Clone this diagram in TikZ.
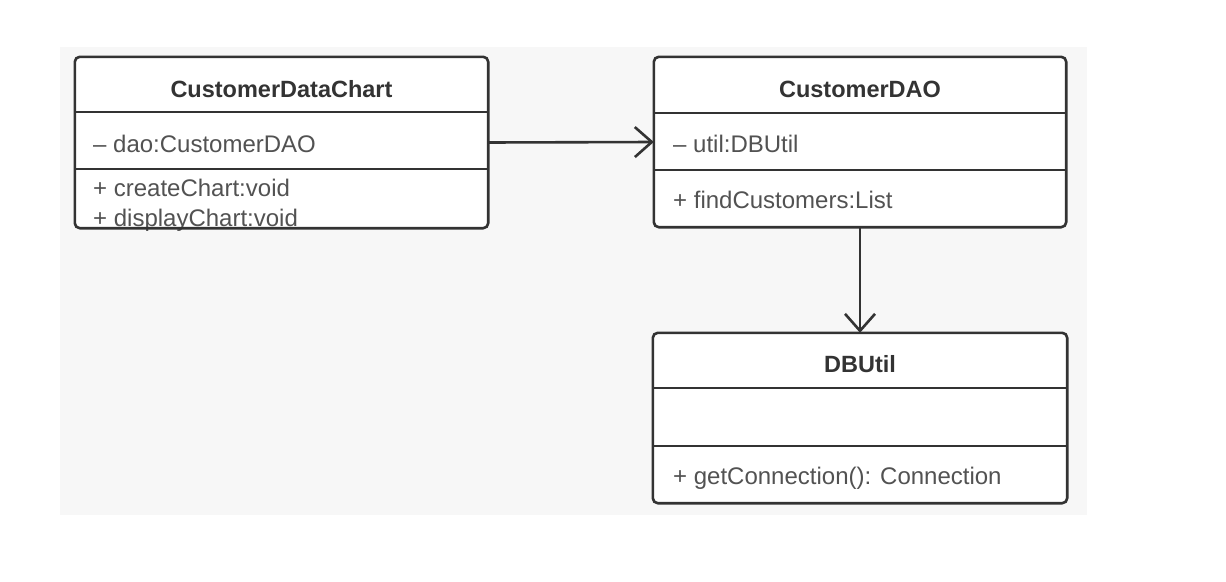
\documentclass[tikz,border=0pt]{standalone}
\usepackage{fontspec}
\setmainfont{Liberation Sans}
\usetikzlibrary{arrows.meta}
\definecolor{ink}{HTML}{333333}
\definecolor{bgc}{HTML}{F7F7F7}
\begin{document}
\begin{tikzpicture}[x=1pt,y=-1pt,
  classbox/.style 2 args={rectangle, draw=none, fill=white, inner sep=0pt, minimum width=#1, minimum height=#2},
  outline/.style={draw=ink, line width=2.6pt, rounded corners=5pt},
  divider/.style={draw=ink, line width=2.6pt},
  title/.style={anchor=base, inner sep=0pt, text=ink, font=\bfseries\fontsize{23.5}{28}\selectfont},
  member/.style={anchor=base west, inner sep=0pt, text=ink!85, font=\fontsize{24}{28}\selectfont},
  assoc/.style={draw=ink, line width=2.6pt, -{Straight Barb[length=17pt, width=30pt, line width=2.6pt]}}
]
\useasboundingbox (0,0) rectangle (1226,581);
\fill[white] (0,0) rectangle (1226,581);
\fill[bgc] (60,47) rectangle (1087,515);

% CustomerDataChart
\node[classbox={413pt}{171pt}] (cdc) at (281.5,142.5) {};
\node[title] (cdcT) at (281.5,97) {CustomerDataChart};
\node[member] (cdcA) at (93,152) {– dao:CustomerDAO};
\node[member] (cdcM1) at (93,196) {+ createChart:void};
\node[member] (cdcM2) at (93,226) {+ displayChart:void};
\draw[divider] (75,112) -- (488,112);
\draw[divider] (75,169) -- (488,169);
\draw[outline] (cdc.north west) rectangle (cdc.south east);

% CustomerDAO
\node[classbox={412pt}{170pt}] (dao) at (860,142) {};
\node[title] (daoT) at (860,97) {CustomerDAO};
\node[member] (daoA) at (673,152) {– util:DBUtil};
\node[member] (daoM) at (673,208) {+ findCustomers:List};
\draw[divider] (654,113) -- (1066,113);
\draw[divider] (654,170) -- (1066,170);
\draw[outline] (dao.north west) rectangle (dao.south east);

% DBUtil
\node[classbox={414pt}{170pt}] (dbu) at (860,418) {};
\node[title] (dbuT) at (860,372) {DBUtil};
\node[member] (dbuM) at (673,484) {+ getConnection(): Connection};
\draw[divider] (653,388) -- (1067,388);
\draw[divider] (653,446) -- (1067,446);
\draw[outline] (dbu.north west) rectangle (dbu.south east);

% connectors
\draw[assoc] (cdc.east) -- (dao.west);
\draw[assoc] (dao.south) -- (dbu.north);
\end{tikzpicture}
\end{document}
